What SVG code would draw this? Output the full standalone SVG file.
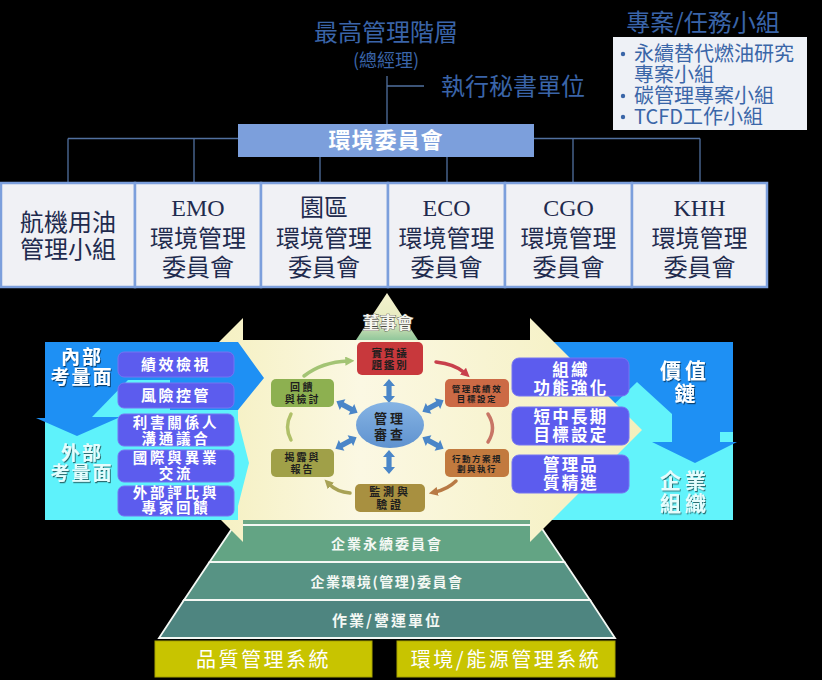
<svg xmlns="http://www.w3.org/2000/svg" width="822" height="680" viewBox="0 0 822 680">
<defs>
<style>
.ttl{fill:#3A64A8;font-family:"Noto Sans CJK TC","Noto Sans CJK SC",sans-serif;text-anchor:middle}
.lst{fill:#3A66A8;font-family:"Noto Sans CJK TC","Noto Sans CJK SC",sans-serif;font-size:20px}
.bul{fill:#3A66A8}
.box{fill:#F0F1F5;stroke:#7C9FDC;stroke-width:2.5}
.ot{font-family:"Liberation Serif","Noto Sans CJK TC",serif;font-size:24px;fill:#1F2B4E;text-anchor:middle}
.conn line{stroke:#51709F;stroke-width:1.3}
.pbox{fill:#5C5CEE;stroke:#7474F2;stroke-width:1}
.pt{font-family:"Noto Sans CJK TC","Noto Sans CJK SC",sans-serif;font-weight:bold;fill:#fff;text-anchor:middle}
.ct{font-family:"Noto Sans CJK TC","Noto Sans CJK SC",sans-serif;font-weight:bold;fill:#1E1E1E;text-anchor:middle}
.wt{font-family:"Noto Sans CJK TC","Noto Sans CJK SC",sans-serif;font-weight:bold;text-anchor:middle}
.lay{stroke:#F4F8F4;stroke-width:1.8}
.cyc{fill:none;stroke-width:3.5;stroke-linecap:round}
.dbl{fill:#4A86C8}
</style>
<linearGradient id="yel" x1="0" y1="0" x2="1" y2="0">
<stop offset="0" stop-color="#F2ECAE"/><stop offset="0.45" stop-color="#FBF8E3"/><stop offset="1" stop-color="#F4EFBC"/>
</linearGradient>
<linearGradient id="topTri" gradientUnits="userSpaceOnUse" x1="0" y1="293" x2="0" y2="524">
<stop offset="0" stop-color="#F5F2CE"/><stop offset="0.12" stop-color="#E6EBC0"/><stop offset="0.2" stop-color="#94C89C"/><stop offset="1" stop-color="#6CA886"/>
</linearGradient>
<linearGradient id="ell" x1="0" y1="0" x2="0" y2="1">
<stop offset="0" stop-color="#86B4E4"/><stop offset="1" stop-color="#5F92CF"/>
</linearGradient>
<filter id="sh" x="-10%" y="-20%" width="130%" height="150%">
<feDropShadow dx="1" dy="1.2" stdDeviation="0.7" flood-color="#000" flood-opacity="0.55"/>
</filter>
<path id="dbl" d="M-12,0 L-5,-6 L-5,-2.6 L5,-2.6 L5,-6 L12,0 L5,6 L5,2.6 L-5,2.6 L-5,6 Z"/>
<marker id="mg" viewBox="0 0 10 10" refX="3" refY="5" markerWidth="2.6" markerHeight="2.6" orient="auto"><path d="M0,0 L10,5 L0,10 z" fill="#A3C474"/></marker>
<marker id="mr" viewBox="0 0 10 10" refX="3" refY="5" markerWidth="2.6" markerHeight="2.6" orient="auto"><path d="M0,0 L10,5 L0,10 z" fill="#C8404C"/></marker>
<marker id="mb" viewBox="0 0 10 10" refX="3" refY="5" markerWidth="2.6" markerHeight="2.6" orient="auto"><path d="M0,0 L10,5 L0,10 z" fill="#B87A45"/></marker>
<marker id="mo" viewBox="0 0 10 10" refX="3" refY="5" markerWidth="2.6" markerHeight="2.6" orient="auto"><path d="M0,0 L10,5 L0,10 z" fill="#A8A255"/></marker>
</defs>

<rect x="0" y="0" width="822" height="680" fill="#000"/>

<!-- top titles -->
<g id="top-mgmt">
<text class="ttl" x="386" y="41" font-size="24">最高管理階層</text>
<text class="ttl" x="386" y="67" font-size="18">(總經理)</text>
</g>
<g id="exec-secretary">
<text class="ttl" x="441" y="95" font-size="24" style="text-anchor:start">執行秘書單位</text>
</g>
<g id="task-groups">
<text class="ttl" x="703" y="31" font-size="24">專案/任務小組</text>
<rect x="613" y="37" width="194" height="93" fill="#EEF1F6"/>
<circle class="bul" cx="623" cy="54" r="2.2"/>
<circle class="bul" cx="623" cy="96" r="2.2"/>
<circle class="bul" cx="623" cy="117" r="2.2"/>
<text class="lst"><tspan x="634" y="61">永續替代燃油研究</tspan><tspan x="634" y="82">專案小組</tspan><tspan x="634" y="103">碳管理專案小組</tspan><tspan x="634" y="124">TCFD工作小組</tspan></text>
</g>

<g id="connectors" class="conn">
<line x1="387" y1="76" x2="387" y2="124"/>
<line x1="387" y1="86" x2="424" y2="86"/>
<line x1="68" y1="138.5" x2="238" y2="138.5"/>
<line x1="534" y1="138.5" x2="700" y2="138.5"/>
<line x1="68" y1="138.5" x2="68" y2="183"/>
<line x1="194" y1="138.5" x2="194" y2="183"/>
<line x1="320" y1="157" x2="320" y2="183"/>
<line x1="447" y1="157" x2="447" y2="183"/>
<line x1="573" y1="138.5" x2="573" y2="183"/>
<line x1="700" y1="138.5" x2="700" y2="183"/>
</g>

<g id="env-committee">
<rect x="238" y="124" width="296" height="33" fill="#7C9FDC"/>
<text class="wt" x="386" y="148" font-size="22" fill="#fff" letter-spacing="1">環境委員會</text>
</g>

<g id="org-fuel">
<rect class="box" x="1" y="183" width="134" height="104"/>
<text class="ot"><tspan x="68" y="230.5">航機用油</tspan><tspan x="68" y="258">管理小組</tspan></text>
</g>
<g id="org-emo">
<rect class="box" x="135" y="183" width="126" height="104"/>
<text class="ot"><tspan x="198" y="216">EMO</tspan><tspan x="198" y="247">環境管理</tspan><tspan x="198" y="276">委員會</tspan></text>
</g>
<g id="org-park">
<rect class="box" x="261" y="183" width="127" height="104"/>
<text class="ot"><tspan x="324" y="216">園區</tspan><tspan x="324" y="247">環境管理</tspan><tspan x="324" y="276">委員會</tspan></text>
</g>
<g id="org-eco">
<rect class="box" x="388" y="183" width="117" height="104"/>
<text class="ot"><tspan x="446.5" y="216">ECO</tspan><tspan x="446.5" y="247">環境管理</tspan><tspan x="446.5" y="276">委員會</tspan></text>
</g>
<g id="org-cgo">
<rect class="box" x="505" y="183" width="127" height="104"/>
<text class="ot"><tspan x="568.5" y="216">CGO</tspan><tspan x="568.5" y="247">環境管理</tspan><tspan x="568.5" y="276">委員會</tspan></text>
</g>
<g id="org-khh">
<rect class="box" x="632" y="183" width="135" height="104"/>
<text class="ot"><tspan x="699.5" y="216">KHH</tspan><tspan x="699.5" y="247">環境管理</tspan><tspan x="699.5" y="276">委員會</tspan></text>
</g>

<!-- pyramid -->
<g id="pyramid">
<polygon points="387,293 539.5,524 234.5,524" fill="url(#topTri)"/>
<polygon class="lay" points="234.5,525 539.5,525 564.5,562 209.5,562" fill="#63A484"/>
<polygon class="lay" points="209.5,562 564.5,562 590,600 184,600" fill="#579384"/>
<polygon class="lay" points="184,600 590,600 615,638 159,638" fill="#4E8580"/>
<text class="wt" x="388" y="328.5" font-size="17" fill="#F6F6F0" stroke="#4A4A40" stroke-width="0.8" paint-order="stroke">董事會</text>
</g>

<!-- right panel -->
<g id="right-panel">
<rect x="530" y="342" width="203" height="178" fill="#62F3FB"/>
<polygon points="530,342 733,342 733,432 720,432 720,442 737,442 695,463 652,442 672,442 672,414 637,382 600,418 530,418" fill="#1E90F4"/>
</g>

<!-- big yellow double arrow -->
<g id="yellow-arrow">
<polygon points="131,430 243,318 243,340 530,340 530,318 642,430 530,542 530,520 243,520 243,542" fill="url(#yel)"/>
</g>

<!-- left panel -->
<g id="left-panel">
<polygon points="45,342 238,342 238,420 249,463 238,506 238,520 45,520" fill="#5EF2FB"/>
<polygon points="45,342 238,342 264,378 238,410 118,410 118,418 77,436 36,418 45,418" fill="#1E90F4"/>
<polygon points="92,417 128,380 170,380 170,417" fill="#5EF2FB"/>
<g filter="url(#sh)">
<text class="wt" font-size="19" fill="#fff" letter-spacing="2"><tspan x="82" y="364">內部</tspan><tspan x="82" y="384">考量面</tspan></text>
<text class="wt" font-size="19" fill="#E6FCFC" letter-spacing="2"><tspan x="82" y="460">外部</tspan><tspan x="82" y="480">考量面</tspan></text>
</g>
</g>

<g id="l-perf"><rect class="pbox" x="118" y="352" width="116" height="25" rx="6"/><text class="pt" x="176" y="370" font-size="15" letter-spacing="2.5">績效檢視</text></g>
<g id="l-risk"><rect class="pbox" x="118" y="383" width="116" height="25" rx="6"/><text class="pt" x="176" y="401" font-size="15" letter-spacing="2.5">風險控管</text></g>
<g id="l-stake"><rect class="pbox" x="118" y="414" width="116" height="32" rx="6"/><text class="pt" font-size="14.5" letter-spacing="2.8"><tspan x="176" y="428">利害關係人</tspan><tspan x="176" y="443.5">溝通議合</tspan></text></g>
<g id="l-intl"><rect class="pbox" x="118" y="450" width="116" height="32" rx="6"/><text class="pt" font-size="14.5" letter-spacing="2.8"><tspan x="176" y="463">國際與異業</tspan><tspan x="176" y="478.5">交流</tspan></text></g>
<g id="l-ext"><rect class="pbox" x="118" y="486" width="116" height="30" rx="6"/><text class="pt" font-size="14.5" letter-spacing="2.8"><tspan x="176" y="498">外部評比與</tspan><tspan x="176" y="513">專家回饋</tspan></text></g>

<g id="r-org"><rect class="pbox" x="512" y="358" width="117" height="38" rx="7"/><text class="pt" font-size="16.5" letter-spacing="2.2"><tspan x="571" y="376">組織</tspan><tspan x="571" y="393.5">功能強化</tspan></text></g>
<g id="r-goal"><rect class="pbox" x="512" y="407" width="117" height="38" rx="7"/><text class="pt" font-size="16.5" letter-spacing="2.2"><tspan x="571" y="423">短中長期</tspan><tspan x="571" y="440.5">目標設定</tspan></text></g>
<g id="r-qual"><rect class="pbox" x="512" y="455" width="117" height="38" rx="7"/><text class="pt" font-size="16.5" letter-spacing="2.2"><tspan x="571" y="471">管理品</tspan><tspan x="571" y="489">質精進</tspan></text></g>

<g id="r-labels" filter="url(#sh)">
<text class="wt" font-size="21" fill="#fff" letter-spacing="4"><tspan x="685" y="378">價值</tspan><tspan x="685" y="401" letter-spacing="0">鏈</tspan></text>
<text class="wt" font-size="21" fill="#E6FCFC" letter-spacing="4"><tspan x="685" y="488">企業</tspan><tspan x="685" y="511">組織</tspan></text>
</g>

<!-- management cycle -->
<g id="cycle-arrows">
<path class="cyc" d="M304,376 Q322,362 348,361" stroke="#A3C474" marker-end="url(#mg)"/>
<path class="cyc" d="M436,362 Q455,364 465,373" stroke="#C8404C" marker-end="url(#mr)"/>
<path class="cyc" d="M488,414 Q497,428 488,442" stroke="#C87565"/>
<path class="cyc" d="M456,481 Q448,489 435,492" stroke="#B87A45" marker-end="url(#mb)"/>
<path class="cyc" d="M350,493 Q337,492 329,484" stroke="#A8A255" marker-end="url(#mo)"/>
<path class="cyc" d="M291,440 Q284,427 291,414" stroke="#B0C068"/>
<g class="dbl">
<use href="#dbl" transform="translate(389,391) rotate(90)"/>
<use href="#dbl" transform="translate(389,462) rotate(90)"/>
<use href="#dbl" transform="translate(347,407) rotate(28)"/>
<use href="#dbl" transform="translate(433,406) rotate(-28)"/>
<use href="#dbl" transform="translate(346,443) rotate(-28)"/>
<use href="#dbl" transform="translate(433,443) rotate(28)"/>
</g>
</g>

<g id="c-issue"><rect x="357" y="342" width="66" height="33" rx="5" fill="#C8383C"/><text class="ct" font-size="10.5" letter-spacing="1.8"><tspan x="390" y="356.5">實質議</tspan><tspan x="390" y="369">題鑑別</tspan></text></g>
<g id="c-target"><rect x="445" y="379" width="64" height="28" rx="5" fill="#CC6A45"/><text class="ct" font-size="8.5" letter-spacing="1.6"><tspan x="477" y="391.5">管理成績效</tspan><tspan x="477" y="402">目標設定</tspan></text></g>
<g id="c-action"><rect x="445" y="449" width="64" height="28" rx="5" fill="#C27A3E"/><text class="ct" font-size="8.5" letter-spacing="1.5"><tspan x="477" y="461.5">行動方案規</tspan><tspan x="477" y="472">劃與執行</tspan></text></g>
<g id="c-monitor"><rect x="355" y="484" width="70" height="28" rx="5" fill="#A89040"/><text class="ct" font-size="11" letter-spacing="2.8"><tspan x="390" y="496">監測與</tspan><tspan x="390" y="508.5">驗證</tspan></text></g>
<g id="c-report"><rect x="271" y="449" width="63" height="28" rx="5" fill="#A0A048"/><text class="ct" font-size="10" letter-spacing="2"><tspan x="302.5" y="461">揭露與</tspan><tspan x="302.5" y="472.5">報告</tspan></text></g>
<g id="c-feedback"><rect x="271" y="379" width="63" height="28" rx="5" fill="#8DB050"/><text class="ct" font-size="10"><tspan x="302.5" y="390.5" letter-spacing="2.5">回饋</tspan><tspan x="302.5" y="402.5" letter-spacing="1.8">與檢討</tspan></text></g>
<g id="c-review"><ellipse cx="390" cy="425" rx="34" ry="23" fill="url(#ell)"/><text class="ct" font-size="13" letter-spacing="3"><tspan x="390" y="423">管理</tspan><tspan x="390" y="439">審查</tspan></text></g>

<!-- pyramid layer labels -->
<g id="layer-texts">
<text class="wt" x="387" y="548.5" font-size="14" fill="#F4F8F4" letter-spacing="2">企業永續委員會</text>
<text class="wt" x="387" y="587" font-size="14" fill="#F4F8F4" letter-spacing="1.5">企業環境(管理)委員會</text>
<text class="wt" x="387" y="625.5" font-size="15" fill="#F4F8F4" letter-spacing="2">作業/營運單位</text>
</g>

<g id="qms">
<rect x="155" y="641" width="217" height="36" fill="#C8C400" stroke="#A8A400" stroke-width="1"/>
<text class="wt" x="263.5" y="667" font-size="20" fill="#fff" letter-spacing="2.5" style="font-weight:normal">品質管理系統</text>
</g>
<g id="ems">
<rect x="397" y="641" width="218" height="36" fill="#C8C400" stroke="#A8A400" stroke-width="1"/>
<text class="wt" x="506" y="667" font-size="20" fill="#fff" letter-spacing="2.5" style="font-weight:normal">環境/能源管理系統</text>
</g>
</svg>
